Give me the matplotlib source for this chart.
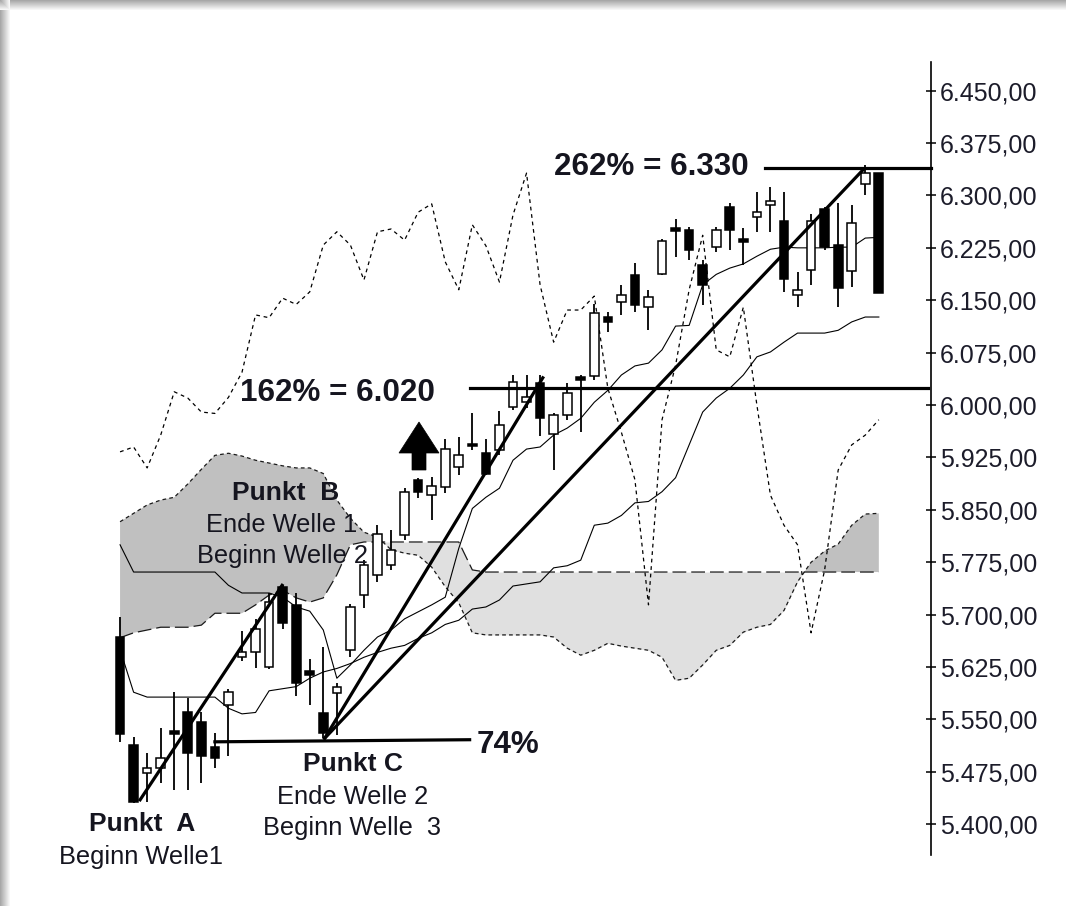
import matplotlib
matplotlib.use('Agg')
import matplotlib.pyplot as plt
import numpy as np
from matplotlib.patches import Rectangle, Polygon
from matplotlib.ticker import FixedLocator, FuncFormatter

# ---------------- data ----------------
opens = [5668, 5513, 5473, 5480, 5534, 5561, 5547, 5511, 5571, 5640,
         5646, 5625, 5740, 5714, 5620, 5559, 5588, 5649, 5728, 5757,
         5771, 5814, 5893, 5871, 5883, 5911, 5944, 5931, 5936, 5997,
         6005, 6031, 5959, 5986, 6038, 6041, 6126, 6148, 6186, 6141,
         6188, 6253, 6250, 6200, 6226, 6284, 6238, 6269, 6286, 6264,
         6157, 6194, 6281, 6229, 6192, 6317, 6332]
highs = [5697, 5525, 5502, 5538, 5590, 5581, 5561, 5531, 5593, 5677,
         5694, 5731, 5742, 5731, 5636, 5654, 5602, 5715, 5778, 5828,
         5821, 5881, 5895, 5897, 5952, 5954, 5988, 5952, 5992, 6043,
         6043, 6043, 5988, 6031, 6043, 6145, 6133, 6172, 6203, 6165,
         6237, 6267, 6255, 6207, 6255, 6289, 6253, 6305, 6312, 6305,
         6191, 6274, 6284, 6289, 6286, 6343, 6332]
lows = [5518, 5430, 5432, 5459, 5449, 5449, 5459, 5481, 5497, 5633,
        5624, 5622, 5680, 5583, 5571, 5523, 5528, 5640, 5709, 5747,
        5764, 5807, 5867, 5835, 5874, 5900, 5936, 5900, 5928, 5993,
        5996, 5955, 5907, 5978, 5962, 6036, 6105, 6129, 6133, 6107,
        6186, 6212, 6208, 6143, 6219, 6222, 6200, 6248, 6248, 6162,
        6141, 6172, 6222, 6141, 6169, 6300, 6160]
closes = [5529, 5432, 5480, 5495, 5529, 5502, 5498, 5495, 5590, 5647,
          5679, 5718, 5688, 5602, 5614, 5530, 5597, 5711, 5771, 5816,
          5793, 5876, 5876, 5884, 5937, 5928, 5941, 5902, 5971, 6033,
          6011, 5982, 5986, 6017, 6036, 6132, 6119, 6157, 6143, 6155,
          6235, 6249, 6222, 6172, 6250, 6251, 6234, 6277, 6292, 6180,
          6164, 6263, 6226, 6168, 6261, 6332, 6160]

tenkan = [5800, 5761, 5761, 5761, 5761, 5761, 5761, 5761, 5742, 5731,
          5731, 5731, 5725, 5711, 5705, 5678, 5609, 5628, 5649, 5668,
          5678, 5694, 5704, 5714, 5725, 5795, 5852, 5868, 5881, 5921,
          5937, 5940, 5957, 5967, 5981, 6004, 6021, 6043, 6056, 6060,
          6079, 6113, 6114, 6172, 6187, 6196, 6202, 6213, 6223, 6226,
          6225, 6225, 6225, 6226, 6226, 6239, 6240]
kijun = [5650, 5589, 5582, 5582, 5582, 5582, 5582, 5582, 5566, 5558,
         5560, 5591, 5594, 5597, 5609, 5618, 5623, 5630, 5639, 5646,
         5652, 5656, 5666, 5674, 5686, 5692, 5708, 5711, 5721, 5741,
         5744, 5747, 5767, 5770, 5778, 5828, 5831, 5842, 5860, 5862,
         5876, 5896, 5943, 5990, 6010, 6024, 6043, 6069, 6076, 6090,
         6103, 6103, 6103, 6107, 6119, 6126, 6126]
span_a = [5833, 5845, 5857, 5864, 5868, 5887, 5908, 5928, 5931, 5927,
          5921, 5917, 5913, 5910, 5910, 5902, 5864, 5838, 5818, 5811,
          5793, 5788, 5785, 5768, 5740, 5717, 5674, 5671, 5671, 5671,
          5671, 5671, 5668, 5652, 5642, 5649, 5659, 5655, 5652, 5649,
          5639, 5606, 5609, 5628, 5649, 5656, 5675, 5682, 5686, 5706,
          5747, 5775, 5791, 5801, 5828, 5844, 5845]
span_b = [5667, 5674, 5678, 5682, 5682, 5682, 5685, 5702, 5702, 5702,
          5714, 5728, 5735, 5724, 5718, 5724, 5757, 5800, 5804, 5804,
          5804, 5804, 5804, 5804, 5804, 5804, 5764, 5761, 5761, 5761,
          5761, 5761, 5761, 5761, 5761, 5761, 5761, 5761, 5761, 5761,
          5761, 5761, 5761, 5761, 5761, 5761, 5761, 5761, 5761, 5761,
          5761, 5761, 5761, 5761, 5761, 5761, 5761]
chikou = [5933, 5940, 5910, 5957, 6019, 6010, 5990, 5988, 6011, 6047,
          6129, 6125, 6153, 6144, 6162, 6229, 6248, 6229, 6179, 6248,
          6252, 6236, 6276, 6288, 6205, 6165, 6258, 6228, 6176, 6272,
          6332, 6172, 6090, 6136, 6136, 6156, 6024, 5961, 5893, 5714,
          5979, 6057, 6165, 6243, 6079, 6069, 6140, 6000, 5871, 5828,
          5800, 5674, 5764, 5907, 5943, 5957, 5979]

price_ticks = [5400, 5475, 5550, 5625, 5700, 5775, 5850, 5925,
               6000, 6075, 6150, 6225, 6300, 6375, 6450]

# annotation anchors (candle index, price)
punkt_a = (1.48, 5435)
punkt_b = (11.96, 5742)
punkt_c = (15.1, 5523)
target_162_end = (31.2, 6039)
target_262_end = (54.8, 6336)
line_74 = [(7.0, 5518), (25.8, 5521)]
level_162 = 6024
level_262 = 6339

# ---------------- figure ----------------
W, H = 1066, 906
fig = plt.figure(figsize=(W / 100, H / 100), dpi=100)
fig.patch.set_facecolor('white')

# soft frame shadow on the top and left edges
shade = np.linspace(0.66, 0.97, 10)
for k, v in enumerate(shade):
    fig.add_artist(Rectangle((0, 1 - (k + 1) / H), 1, 1 / H, transform=fig.transFigure,
                             facecolor=str(v), edgecolor='none', zorder=-5))
    fig.add_artist(Rectangle((k / W, 0), 1 / W, 1, transform=fig.transFigure,
                             facecolor=str(v), edgecolor='none', zorder=-5))

ax = fig.add_axes([100 / W, 51 / H, 831 / W, 793 / H])
ax.set_facecolor('none')
ax.set_xlim(-1.48, 59.85)
ax.set_ylim(5356, 6491)

idx = np.arange(len(closes))
a = np.array(span_a, float)
b = np.array(span_b, float)

# cloud
ax.fill_between(idx, a, b, where=a >= b, interpolate=True, color='#c0c0c0', lw=0, zorder=1)
ax.fill_between(idx, a, b, where=a < b, interpolate=True, color='#e0e0e0', lw=0, zorder=1)
ax.plot(idx, a, color='#1a1a1a', lw=0.9, ls=(0, (3, 2.5)), zorder=2)
ax.plot(idx, b, color='#1a1a1a', lw=0.9, ls=(0, (11, 4)), zorder=2)

# indicator lines
ax.plot(idx, tenkan, color='black', lw=0.8, zorder=3)
ax.plot(idx, kijun, color='black', lw=0.8, zorder=3)
ax.plot(idx, chikou, color='black', lw=0.9, ls=(0, (3, 3)), zorder=3)

# candles
bw = 0.64
for i in idx:
    o, h, l, c = opens[i], highs[i], lows[i], closes[i]
    ax.vlines(i, l, h, color='black', lw=1.3, zorder=4)
    bottom = min(o, c)
    height = max(abs(c - o), 3.5)
    face = 'white' if c >= o else 'black'
    ax.add_patch(Rectangle((i - bw / 2, bottom), bw, height, facecolor=face,
                           edgecolor='black', lw=1.1, zorder=5))

# wave lines
lw_thick = 2.3
ax.plot([punkt_a[0], punkt_b[0]], [punkt_a[1], punkt_b[1]], color='black', lw=lw_thick, zorder=6)
ax.plot([punkt_c[0], target_162_end[0]], [punkt_c[1], target_162_end[1]], color='black', lw=lw_thick, zorder=6)
ax.plot([punkt_c[0], target_262_end[0]], [punkt_c[1], target_262_end[1]], color='black', lw=lw_thick, zorder=6)
ax.plot([p[0] for p in line_74], [p[1] for p in line_74], color='black', lw=lw_thick, zorder=6)
ax.plot([25.8, 59.6], [level_162, level_162], color='black', lw=lw_thick, zorder=6)
ax.plot([47.6, 59.85], [level_262, level_262], color='black', lw=lw_thick, zorder=6, clip_on=False)

# axis styling
for s in ['left', 'top', 'bottom']:
    ax.spines[s].set_visible(False)
ax.spines['right'].set_linewidth(1.2)
ax.xaxis.set_visible(False)
ax.yaxis.tick_right()
ax.yaxis.set_major_locator(FixedLocator(price_ticks))
ax.yaxis.set_major_formatter(FuncFormatter(
    lambda v, p: f"{int(v):,}".replace(',', '.') + ",00"))
ax.tick_params(axis='y', direction='inout', length=7, width=1.1, pad=3,
               labelsize=18, labelcolor='#1c1c2a')
for t in ax.get_yticklabels():
    t.set_family('Liberation Sans')

# ---------------- text ----------------
FONT = 'Liberation Sans'
TXT = '#15151f'

def px(x, y):
    return (x / W, 1 - y / H)

def label(x, y, s, size=18.3, bold=False):
    fig.text(*px(x, y), s, ha='center', va='center', fontsize=size,
             fontweight='bold' if bold else 'normal', family=FONT, color=TXT, zorder=10)

label(651, 167, '262% = 6.330', size=22.6, bold=True)
label(337, 393, '162% = 6.020', size=22.6, bold=True)
label(508, 745, '74%', size=22.6, bold=True)

label(286, 493, 'Punkt  B', size=19, bold=True)
label(282, 525, 'Ende Welle 1')
label(282, 556, 'Beginn Welle 2')

label(353, 764, 'Punkt C', size=19, bold=True)
label(353, 797, 'Ende Welle 2')
label(352, 828, 'Beginn Welle  3')

label(142, 824, 'Punkt  A', size=19, bold=True)
label(141, 857, 'Beginn Welle1')

# up arrow
arrow_pts = [px(399, 453), px(419, 422), px(439, 453), px(426, 453),
             px(426, 470), px(412, 470), px(412, 453)]
fig.add_artist(Polygon(arrow_pts, closed=True, transform=fig.transFigure,
                       facecolor='black', edgecolor='black', lw=0.5, zorder=10))

fig.savefig('out.png', dpi=100)
